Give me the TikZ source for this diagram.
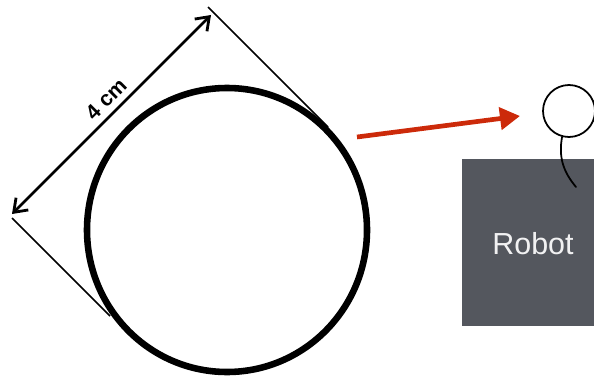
\documentclass[tikz,border=0pt]{standalone}
\usepackage{fontspec}
\setmainfont{Liberation Sans}
\usetikzlibrary{arrows.meta, positioning, shapes.geometric}
\definecolor{robotgray}{HTML}{54575E}
\definecolor{arrowred}{HTML}{CC2A0A}

\begin{document}
\begin{tikzpicture}[
    disc/.style={ellipse, draw=black, line width=5.6pt, minimum width=8.4cm, minimum height=8.52cm, inner sep=0pt},
    ball/.style={circle, draw=black, fill=white, line width=1.5pt, minimum size=1.56cm, inner sep=0pt},
    robotbox/.style={rectangle, fill=robotgray, minimum width=3.96cm, minimum height=5.01cm, inner sep=0pt},
    tangent/.style={line width=1.5pt},
    dimarrow/.style={{Straight Barb[length=3.6mm,width=5.2mm]}-{Straight Barb[length=3.6mm,width=5.2mm]}, line width=2.4pt},
    redarrow/.style={-{Triangle[length=6mm,width=6.6mm]}, line width=4pt, draw=arrowred, color=arrowred}
]
\useasboundingbox (0,0) rectangle (17.82,11.31);

% Big circle
\node[disc] (D) at (6.81, 4.41) {};

% Dimension lines
\coordinate (T1) at (6.24, 11.10);
\coordinate (T2) at (9.84, 7.50);
\coordinate (L1) at (0.36, 4.77);
\coordinate (L2) at (3.30, 1.83);
\coordinate (A1) at (0.36, 4.89);
\coordinate (A2) at (6.33, 10.86);
\draw[tangent] (T1) -- (T2);
\draw[tangent] (L1) -- (L2);
\draw[dimarrow] (A1) -- (A2);
\node[rotate=45, font=\bfseries\fontsize{18}{18}\selectfont] (size) at (3.18, 8.34) {4 cm};

% Robot
\node[robotbox] (R) at (15.84, 4.035) {};
\node[text=white!92!robotgray, font=\fontsize{26}{26}\selectfont] (label) at (15.99, 3.99) {Robot};
\node[ball] (B) at (17.07, 7.98) {};
\coordinate (W) at (17.28, 5.70);
\draw[line width=1.5pt, line cap=round] (B.255) to[out=-100, in=130] (W);

% Red arrow
\coordinate (S) at (10.71, 7.20);
\coordinate (E) at (15.60, 7.83);
\draw[redarrow] (S) -- (E);

\end{tikzpicture}
\end{document}
